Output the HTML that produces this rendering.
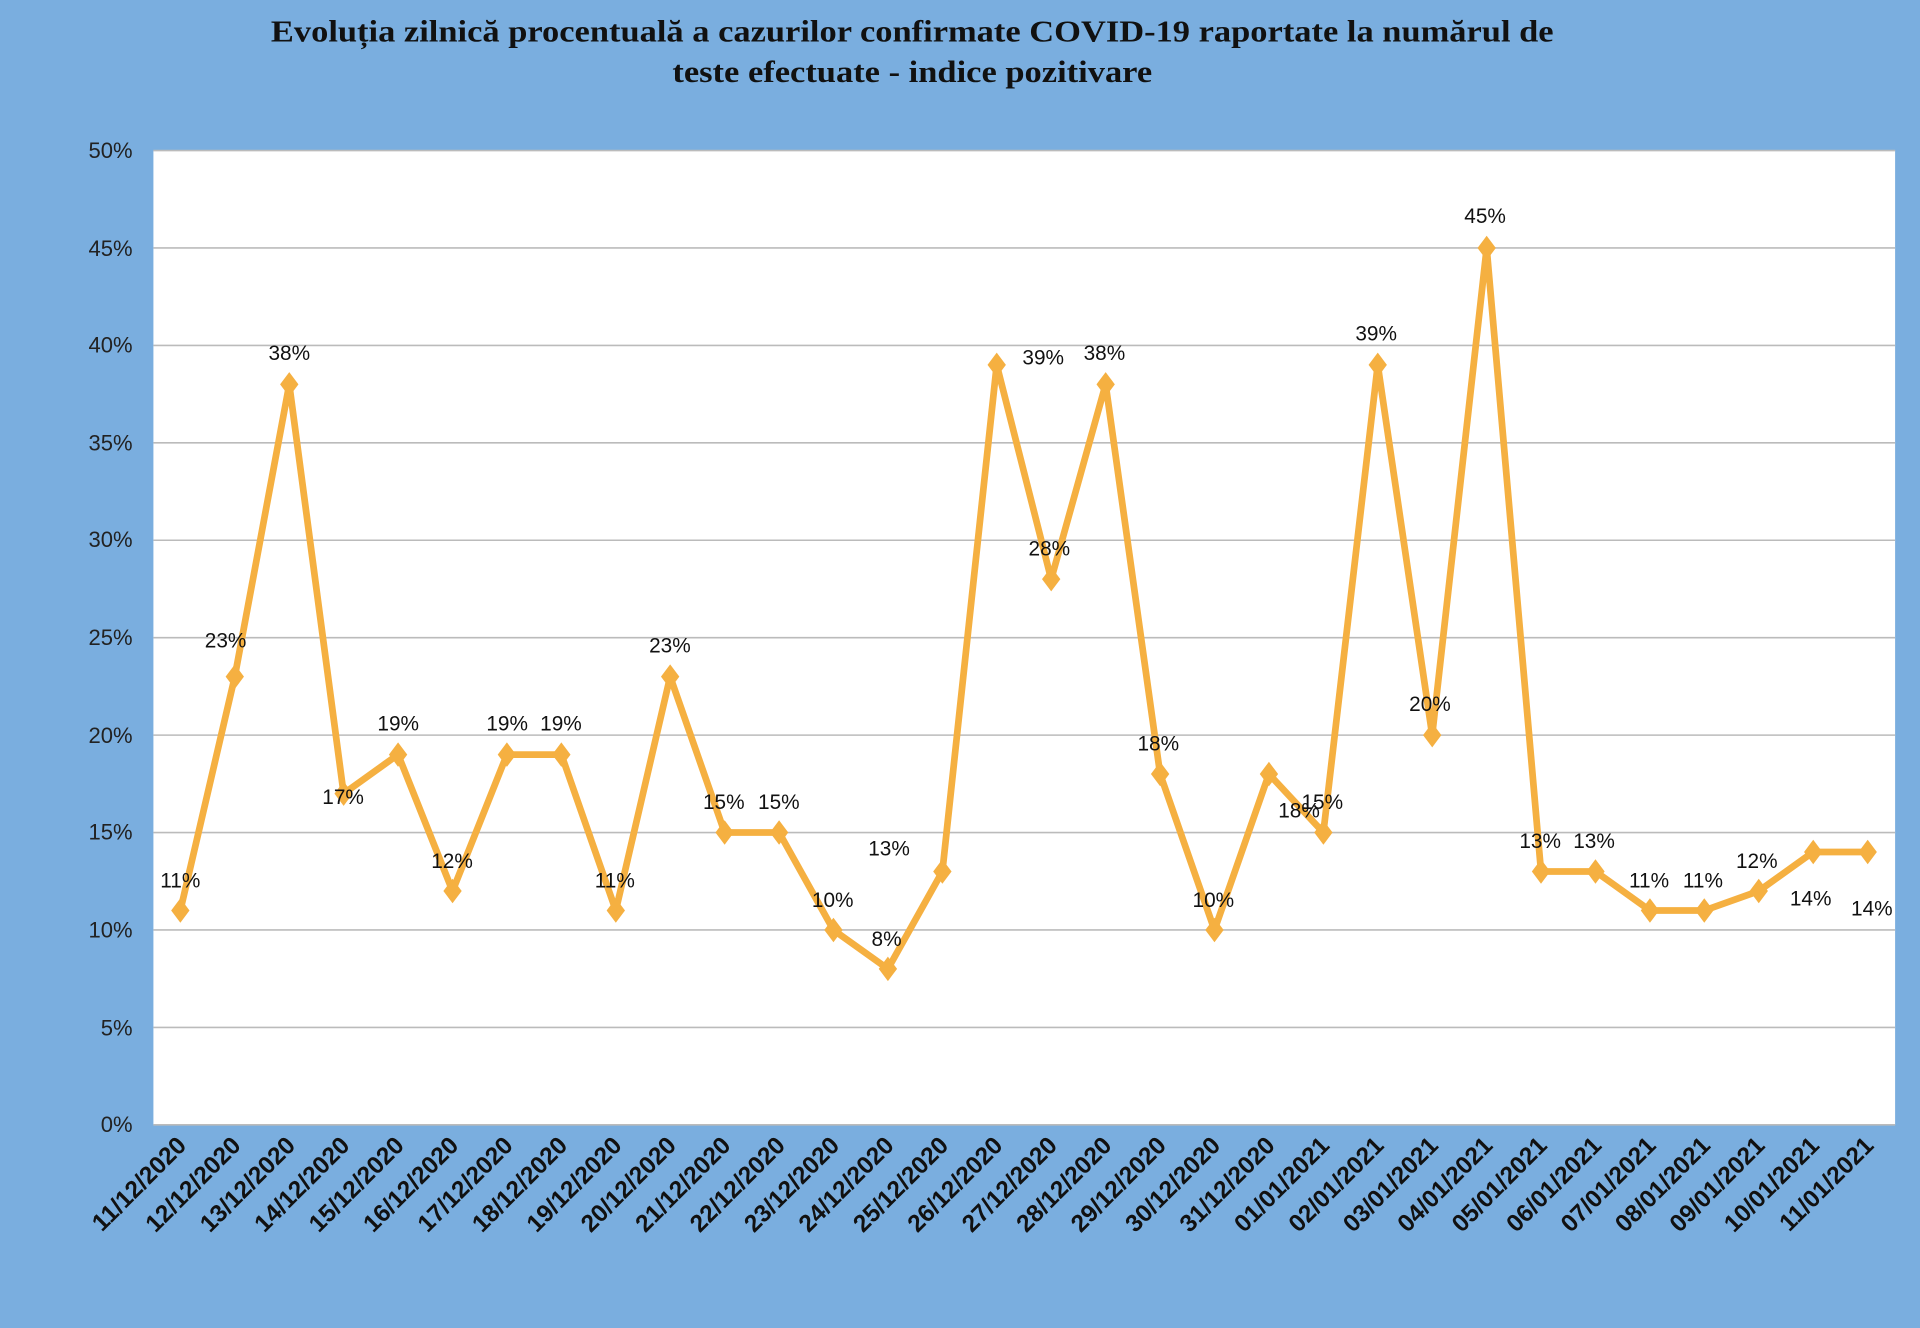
<!DOCTYPE html>
<html><head><meta charset="utf-8"><style>
html,body{margin:0;padding:0;background:#7AAEDF;}
svg{display:block}
</style></head><body>
<svg width="1920" height="1328" viewBox="0 0 1568 1085" xmlns="http://www.w3.org/2000/svg">
<rect x="0" y="0" width="1568" height="1085" fill="#7AAEDF"/>
<g font-family="'Liberation Serif',serif" font-weight="bold" font-size="25" fill="#111" text-anchor="middle">
<text x="745" y="34" textLength="1048" lengthAdjust="spacingAndGlyphs">Evoluția zilnică procentuală a cazurilor confirmate COVID-19 raportate la numărul de</text>
<text x="745" y="67" textLength="392" lengthAdjust="spacingAndGlyphs">teste efectuate - indice pozitivare</text>
</g>
<rect x="125" y="123" width="1423" height="796" fill="#fff"/>
<g stroke="#BBBBBB" stroke-width="1.3">
<line x1="125" y1="123" x2="1548" y2="123"/>
<line x1="125" y1="202.6" x2="1548" y2="202.6"/>
<line x1="125" y1="282.2" x2="1548" y2="282.2"/>
<line x1="125" y1="361.8" x2="1548" y2="361.8"/>
<line x1="125" y1="441.4" x2="1548" y2="441.4"/>
<line x1="125" y1="521" x2="1548" y2="521"/>
<line x1="125" y1="600.6" x2="1548" y2="600.6"/>
<line x1="125" y1="680.2" x2="1548" y2="680.2"/>
<line x1="125" y1="759.8" x2="1548" y2="759.8"/>
<line x1="125" y1="839.4" x2="1548" y2="839.4"/>
<line x1="125" y1="919" x2="1548" y2="919"/>
</g>
<g font-family="'Liberation Sans',sans-serif" font-size="18" fill="#222" text-anchor="end">
<text x="108" y="129">50%</text><text x="108" y="209">45%</text><text x="108" y="288">40%</text>
<text x="108" y="368">35%</text><text x="108" y="447">30%</text><text x="108" y="527">25%</text>
<text x="108" y="607">20%</text><text x="108" y="686">15%</text><text x="108" y="766">10%</text>
<text x="108" y="846">5%</text><text x="108" y="925">0%</text>
</g>
<polyline fill="none" stroke="#F5B041" stroke-width="5.5" stroke-linejoin="round" points="147,743.9 191.5,552.8 236,314 280.4,648.4 324.9,616.5 369.4,728 413.8,616.5 458.3,616.5 502.8,743.9 547.2,552.8 591.7,680.2 636.2,680.2 680.6,759.8 725.1,791.6 769.6,712 814,298.1 858.5,473.2 903,314 947.5,632.4 991.9,759.8 1036.4,632.4 1080.9,680.2 1125.3,298.1 1169.8,600.6 1214.3,202.6 1258.7,712 1303.2,712 1347.7,743.9 1392.1,743.9 1436.6,728 1481.1,696.1 1525.6,696.1"/>
<g fill="#F5B041">
<path d="M0,-10 L7.5,0 L0,10 L-7.5,0Z" transform="translate(147,743.9)"/>
<path d="M0,-10 L7.5,0 L0,10 L-7.5,0Z" transform="translate(191.5,552.8)"/>
<path d="M0,-10 L7.5,0 L0,10 L-7.5,0Z" transform="translate(236,314)"/>
<path d="M0,-10 L7.5,0 L0,10 L-7.5,0Z" transform="translate(280.4,648.4)"/>
<path d="M0,-10 L7.5,0 L0,10 L-7.5,0Z" transform="translate(324.9,616.5)"/>
<path d="M0,-10 L7.5,0 L0,10 L-7.5,0Z" transform="translate(369.4,728)"/>
<path d="M0,-10 L7.5,0 L0,10 L-7.5,0Z" transform="translate(413.8,616.5)"/>
<path d="M0,-10 L7.5,0 L0,10 L-7.5,0Z" transform="translate(458.3,616.5)"/>
<path d="M0,-10 L7.5,0 L0,10 L-7.5,0Z" transform="translate(502.8,743.9)"/>
<path d="M0,-10 L7.5,0 L0,10 L-7.5,0Z" transform="translate(547.2,552.8)"/>
<path d="M0,-10 L7.5,0 L0,10 L-7.5,0Z" transform="translate(591.7,680.2)"/>
<path d="M0,-10 L7.5,0 L0,10 L-7.5,0Z" transform="translate(636.2,680.2)"/>
<path d="M0,-10 L7.5,0 L0,10 L-7.5,0Z" transform="translate(680.6,759.8)"/>
<path d="M0,-10 L7.5,0 L0,10 L-7.5,0Z" transform="translate(725.1,791.6)"/>
<path d="M0,-10 L7.5,0 L0,10 L-7.5,0Z" transform="translate(769.6,712)"/>
<path d="M0,-10 L7.5,0 L0,10 L-7.5,0Z" transform="translate(814,298.1)"/>
<path d="M0,-10 L7.5,0 L0,10 L-7.5,0Z" transform="translate(858.5,473.2)"/>
<path d="M0,-10 L7.5,0 L0,10 L-7.5,0Z" transform="translate(903,314)"/>
<path d="M0,-10 L7.5,0 L0,10 L-7.5,0Z" transform="translate(947.5,632.4)"/>
<path d="M0,-10 L7.5,0 L0,10 L-7.5,0Z" transform="translate(991.9,759.8)"/>
<path d="M0,-10 L7.5,0 L0,10 L-7.5,0Z" transform="translate(1036.4,632.4)"/>
<path d="M0,-10 L7.5,0 L0,10 L-7.5,0Z" transform="translate(1080.9,680.2)"/>
<path d="M0,-10 L7.5,0 L0,10 L-7.5,0Z" transform="translate(1125.3,298.1)"/>
<path d="M0,-10 L7.5,0 L0,10 L-7.5,0Z" transform="translate(1169.8,600.6)"/>
<path d="M0,-10 L7.5,0 L0,10 L-7.5,0Z" transform="translate(1214.3,202.6)"/>
<path d="M0,-10 L7.5,0 L0,10 L-7.5,0Z" transform="translate(1258.7,712)"/>
<path d="M0,-10 L7.5,0 L0,10 L-7.5,0Z" transform="translate(1303.2,712)"/>
<path d="M0,-10 L7.5,0 L0,10 L-7.5,0Z" transform="translate(1347.7,743.9)"/>
<path d="M0,-10 L7.5,0 L0,10 L-7.5,0Z" transform="translate(1392.1,743.9)"/>
<path d="M0,-10 L7.5,0 L0,10 L-7.5,0Z" transform="translate(1436.6,728)"/>
<path d="M0,-10 L7.5,0 L0,10 L-7.5,0Z" transform="translate(1481.1,696.1)"/>
<path d="M0,-10 L7.5,0 L0,10 L-7.5,0Z" transform="translate(1525.6,696.1)"/>
</g>
<g font-family="'Liberation Sans',sans-serif" font-size="17" fill="#111" text-anchor="middle">
<text x="147" y="725">11%</text><text x="184" y="529">23%</text><text x="236" y="294">38%</text>
<text x="280" y="657">17%</text><text x="325" y="597">19%</text><text x="369" y="709">12%</text>
<text x="414" y="597">19%</text><text x="458" y="597">19%</text><text x="502" y="725">11%</text>
<text x="547" y="533">23%</text><text x="591" y="661">15%</text><text x="636" y="661">15%</text>
<text x="680" y="741">10%</text><text x="724" y="773">8%</text><text x="726" y="699">13%</text>
<text x="852" y="298">39%</text><text x="857" y="454">28%</text><text x="902" y="294">38%</text>
<text x="946" y="613">18%</text><text x="991" y="741">10%</text><text x="1061" y="668">18%</text>
<text x="1080" y="661">15%</text><text x="1124" y="278">39%</text><text x="1168" y="581">20%</text>
<text x="1213" y="182">45%</text><text x="1258" y="693">13%</text><text x="1302" y="693">13%</text>
<text x="1347" y="725">11%</text><text x="1391" y="725">11%</text><text x="1435" y="709">12%</text>
<text x="1479" y="740">14%</text><text x="1529" y="748">14%</text>
</g>
<g font-family="'Liberation Sans',sans-serif" font-weight="bold" font-size="20" fill="#111" text-anchor="end">
<text transform="translate(153,937) rotate(-45)">11/12/2020</text>
<text transform="translate(197.5,937) rotate(-45)">12/12/2020</text>
<text transform="translate(242,937) rotate(-45)">13/12/2020</text>
<text transform="translate(286.4,937) rotate(-45)">14/12/2020</text>
<text transform="translate(330.9,937) rotate(-45)">15/12/2020</text>
<text transform="translate(375.4,937) rotate(-45)">16/12/2020</text>
<text transform="translate(419.8,937) rotate(-45)">17/12/2020</text>
<text transform="translate(464.3,937) rotate(-45)">18/12/2020</text>
<text transform="translate(508.8,937) rotate(-45)">19/12/2020</text>
<text transform="translate(553.2,937) rotate(-45)">20/12/2020</text>
<text transform="translate(597.7,937) rotate(-45)">21/12/2020</text>
<text transform="translate(642.2,937) rotate(-45)">22/12/2020</text>
<text transform="translate(686.6,937) rotate(-45)">23/12/2020</text>
<text transform="translate(731.1,937) rotate(-45)">24/12/2020</text>
<text transform="translate(775.6,937) rotate(-45)">25/12/2020</text>
<text transform="translate(820,937) rotate(-45)">26/12/2020</text>
<text transform="translate(864.5,937) rotate(-45)">27/12/2020</text>
<text transform="translate(909,937) rotate(-45)">28/12/2020</text>
<text transform="translate(953.5,937) rotate(-45)">29/12/2020</text>
<text transform="translate(997.9,937) rotate(-45)">30/12/2020</text>
<text transform="translate(1042.4,937) rotate(-45)">31/12/2020</text>
<text transform="translate(1086.9,937) rotate(-45)">01/01/2021</text>
<text transform="translate(1131.3,937) rotate(-45)">02/01/2021</text>
<text transform="translate(1175.8,937) rotate(-45)">03/01/2021</text>
<text transform="translate(1220.3,937) rotate(-45)">04/01/2021</text>
<text transform="translate(1264.7,937) rotate(-45)">05/01/2021</text>
<text transform="translate(1309.2,937) rotate(-45)">06/01/2021</text>
<text transform="translate(1353.7,937) rotate(-45)">07/01/2021</text>
<text transform="translate(1398.1,937) rotate(-45)">08/01/2021</text>
<text transform="translate(1442.6,937) rotate(-45)">09/01/2021</text>
<text transform="translate(1487.1,937) rotate(-45)">10/01/2021</text>
<text transform="translate(1531.6,937) rotate(-45)">11/01/2021</text>
</g>
</svg>
</body></html>
